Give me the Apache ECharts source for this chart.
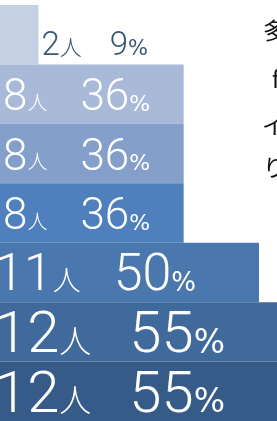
<!DOCTYPE html>
<html>
<head>
<meta charset="utf-8">
<script src="https://cdn.jsdelivr.net/npm/echarts@6/dist/echarts.min.js"></script>
<style>
html, body { margin: 0; padding: 0; background: #fff; }
#main { width: 277px; height: 421px; }
</style>
</head>
<body>
<div id="main"></div>
<script>
// データ
var categories = ['1', '2', '3', '4', '5', '6', '7'];
var counts = [2, 8, 8, 8, 11, 12, 12];
var percents = [9, 36, 36, 36, 50, 55, 55];
var barColors = ['#c5d0e2', '#a9b9d8', '#859fcb', '#4f80bd', '#4a77ad', '#40699c', '#375b88'];
var noteLines = ['多', 'f', 'イ', 'り'];

var numFont = 'Roboto';
var pctFont = '"DejaVu Sans"';
var jpFont = '"Noto Sans CJK JP"';

// ラベルの大きさ（行ごと）
var labelStyles = [
    { pos: 'right', color: '#3a5677', n: 33, u: 22, p: 21, gap: 28, dx: -2, dy: 12 },
    { pos: 'insideLeft', color: '#fff', n: 44, u: 20, p: 22, gap: 33, dx: 8, dy: 5 },
    { pos: 'insideLeft', color: '#fff', n: 44, u: 20, p: 22, gap: 33, dx: 8, dy: 5 },
    { pos: 'insideLeft', color: '#fff', n: 44, u: 20, p: 22, gap: 33, dx: 8, dy: 5 },
    { pos: 'insideLeft', color: '#fff', n: 52, u: 28, p: 26, gap: 33, dx: 0, dy: 5 },
    { pos: 'insideLeft', color: '#fff', n: 58, u: 32, p: 33, gap: 38, dx: 0, dy: 6 },
    { pos: 'insideLeft', color: '#fff', n: 58, u: 32, p: 33, gap: 38, dx: 0, dy: 6 }
];

var seriesData = percents.map(function (v, i) {
    var s = labelStyles[i];
    // 人 と % を数字のベースラインにそろえる
    var padU = Math.max(0, Math.round(0.208 * s.n - 0.13 * s.u + 2));
    var padP = Math.max(0, Math.round(0.208 * s.n - 0.193 * s.p));
    return {
        value: v,
        itemStyle: { color: barColors[i] },
        label: {
            show: true,
            position: s.pos,
            distance: 5,
            offset: [s.dx, s.dy],
            color: s.color,
            formatter: '{n|' + counts[i] + '}{u|人}{s| }{n|' + v + '}{p|%}',
            rich: {
                n: { fontFamily: numFont, fontWeight: 300, fontSize: s.n, color: s.color, verticalAlign: 'bottom', lineHeight: s.n },
                u: { fontFamily: jpFont, fontWeight: 300, fontSize: s.u, color: s.color, verticalAlign: 'bottom', lineHeight: s.n, padding: [0, 0, padU, 0] },
                s: { width: s.gap, fontSize: 10, lineHeight: s.n },
                p: { fontFamily: pctFont, fontWeight: 400, fontSize: s.p, color: s.color, verticalAlign: 'bottom', lineHeight: s.n, padding: [0, 0, padP, 0] }
            }
        }
    };
});

var myChart = echarts.init(document.getElementById('main'));
var option = {
    animation: false,
    grid: { left: 0, right: 0, top: 5, height: 418 },
    // 0 の位置が左端より少し外に出るように min を正にしている
    xAxis: { type: 'value', min: 1.86, max: 53.35, show: false },
    yAxis: { type: 'category', data: categories, inverse: true, show: false },
    series: [{
        type: 'bar',
        barCategoryGap: 0,
        clip: false,
        data: seriesData
    }],
    graphic: [
        { type: 'text', left: 263, top: 19, style: { text: noteLines[0], fontSize: 23, fontFamily: jpFont, fill: '#111' } },
        { type: 'text', left: 272, top: 68, style: { text: noteLines[1], fontSize: 23, fontFamily: jpFont, fill: '#111' } },
        { type: 'text', left: 262, top: 114, style: { text: noteLines[2], fontSize: 23, fontFamily: jpFont, fill: '#111' } },
        { type: 'text', left: 263, top: 156, style: { text: noteLines[3], fontSize: 23, fontFamily: jpFont, fill: '#111' } }
    ]
};
myChart.setOption(option);
</script>
</body>
</html>
